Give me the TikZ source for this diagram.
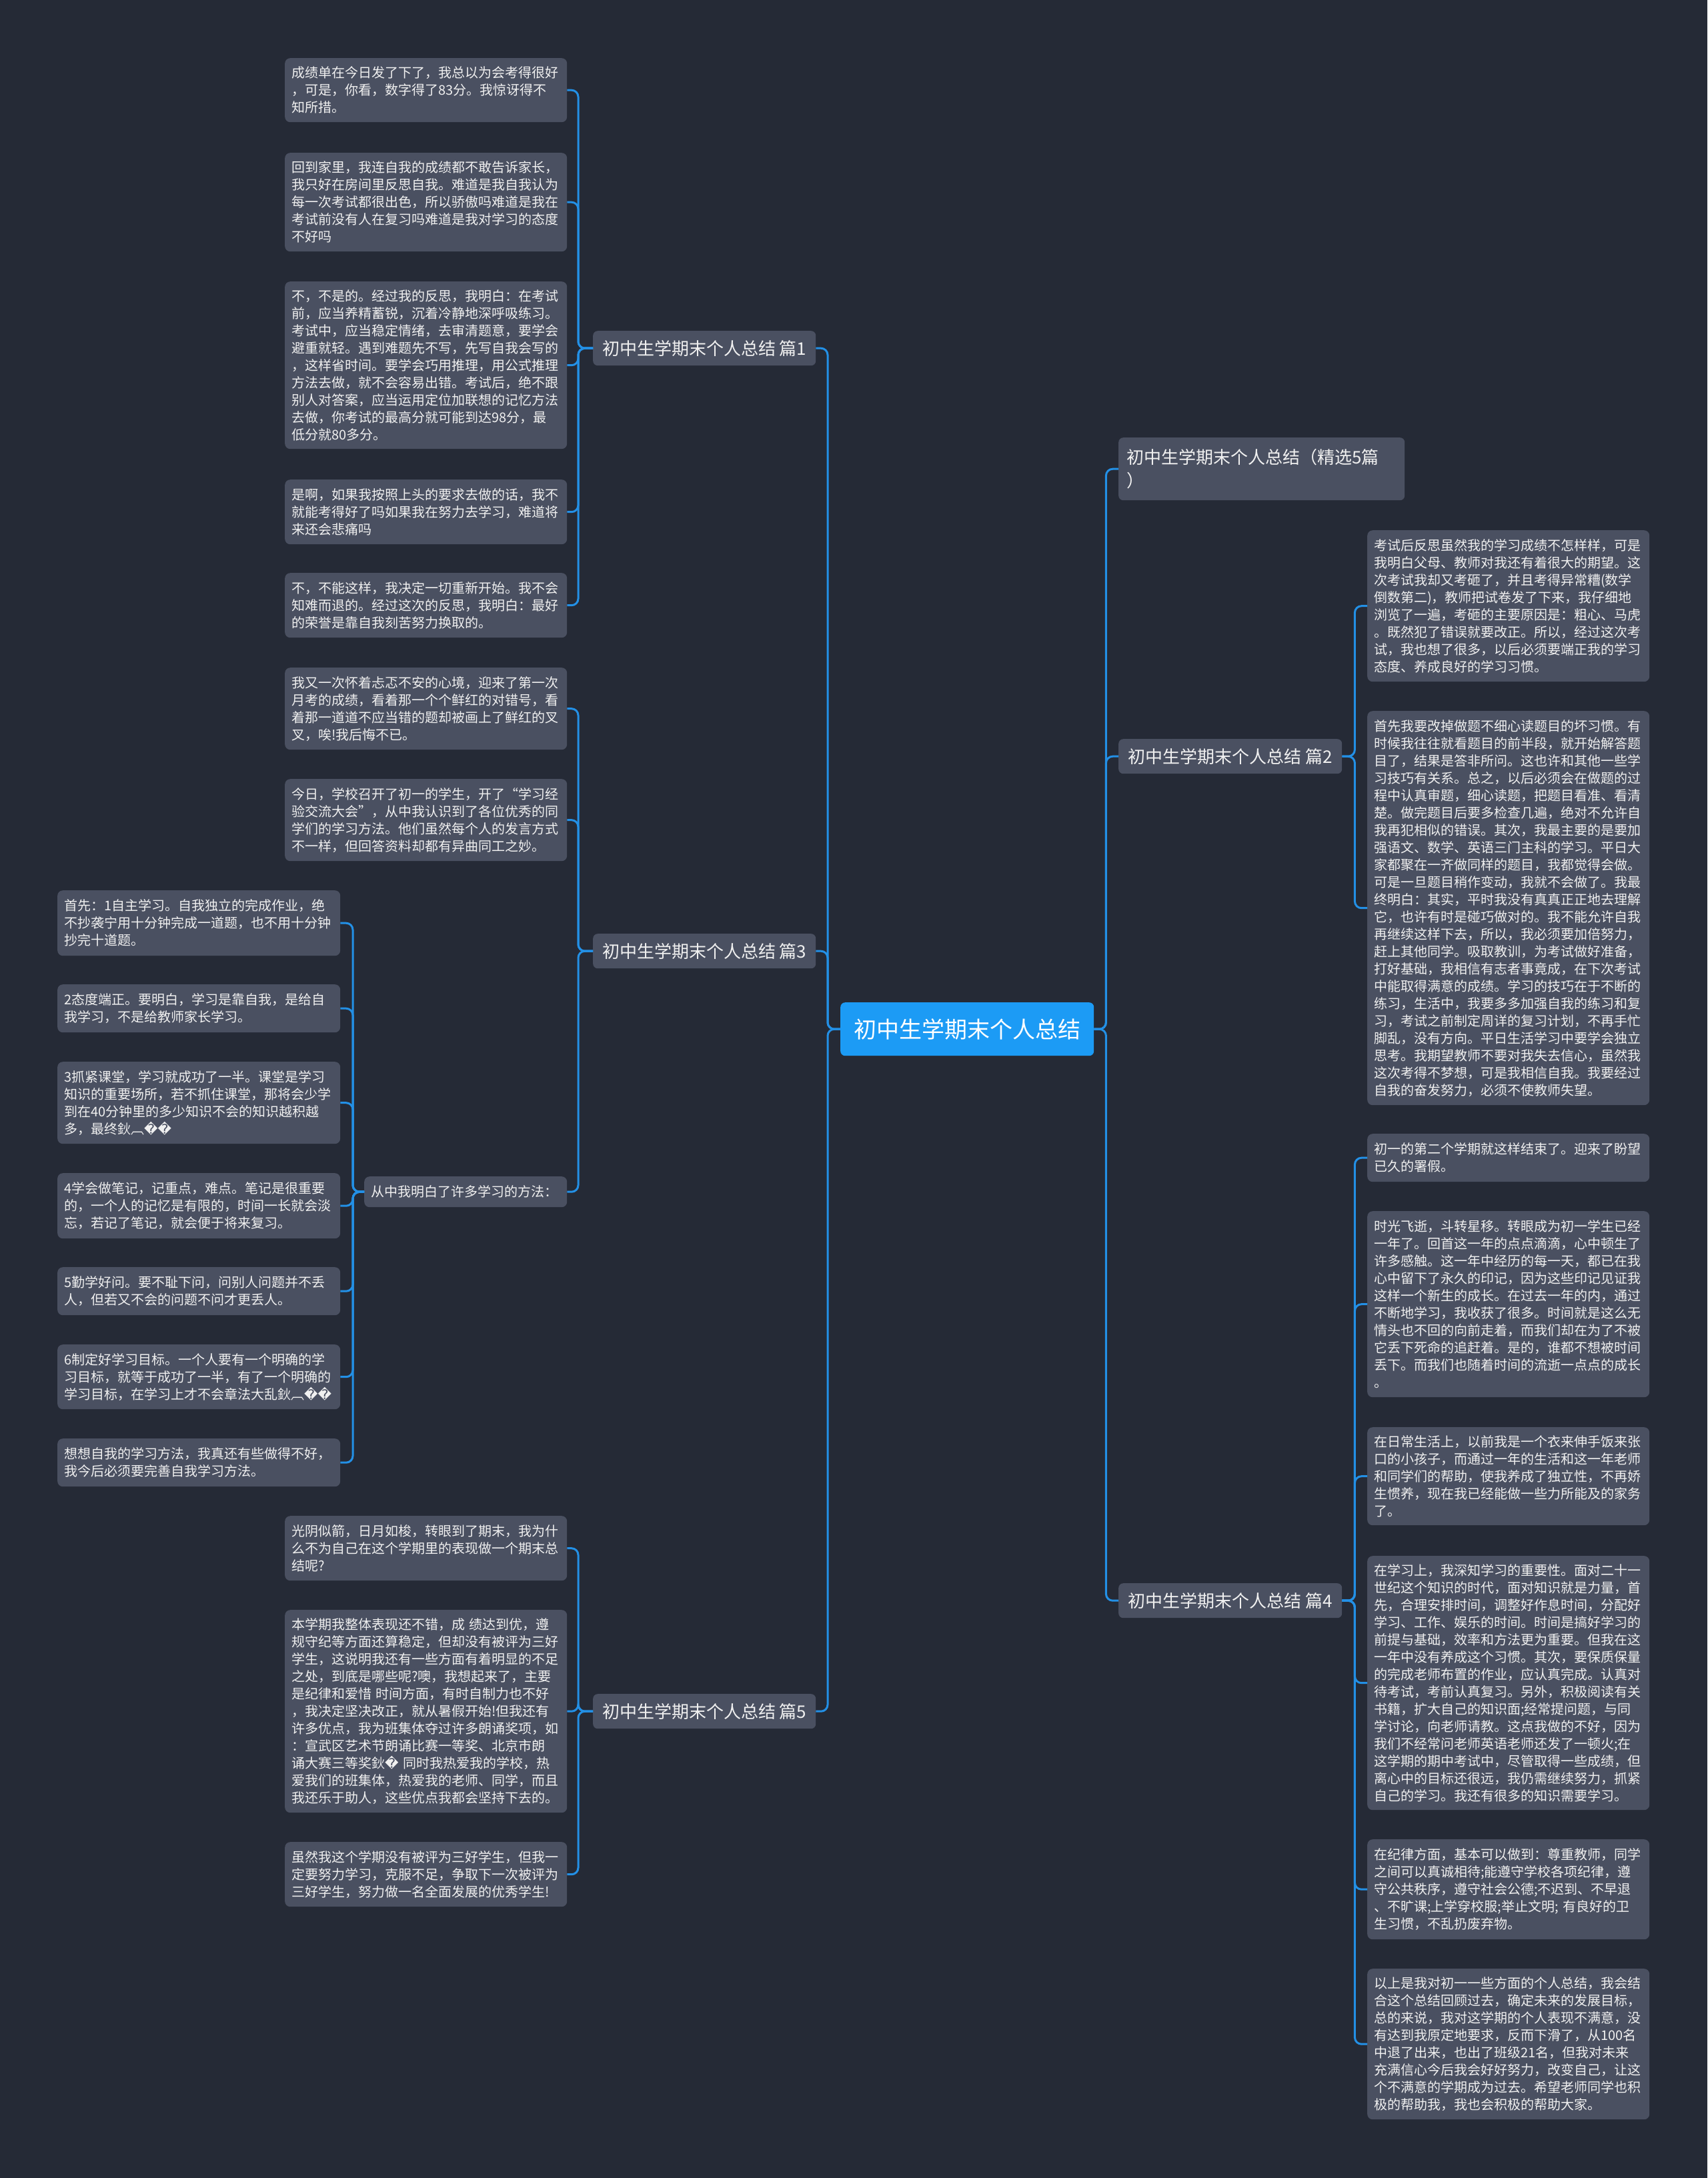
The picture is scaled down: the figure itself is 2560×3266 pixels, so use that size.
\documentclass[tikz,border=0pt]{standalone}
\usepackage{fontspec}
\setmainfont{Noto Sans CJK SC}
\newfontfamily\dejavu{DejaVu Sans}
\newcommand{\rp}{{\dejavu\symbol{"FFFD}}}
\definecolor{bgc}{HTML}{252A36}
\definecolor{boxc}{HTML}{4A5061}
\definecolor{linkc}{HTML}{2390E6}
\definecolor{rootc}{HTML}{1C9BF5}
\definecolor{txtc}{HTML}{F0F0F0}
\tikzset{
  leaf/.style={fill=boxc, rounded corners=8pt, text=txtc, anchor=north west,
    font=\fontsize{20}{26}\selectfont, align=left, text width=403pt,
    inner xsep=10pt, inner ysep=0pt},
  branch/.style={fill=boxc, rounded corners=7pt, text=txtc, anchor=north west,
    font=\fontsize{26}{35}\selectfont, inner xsep=12pt, inner ysep=0pt},
  rootbox/.style={fill=rootc, rounded corners=7pt, text=white, anchor=north west,
    font=\fontsize{34}{40}\selectfont, minimum width=380pt, minimum height=80pt},
  conn/.style={draw=linkc, line width=3pt, rounded corners=10pt}
}
\begin{document}
\begin{tikzpicture}[x=1pt,y=-1pt]
\fill[bgc] (0,0) rectangle (2560,3266);
\useasboundingbox (0,0) rectangle (2560,3266);

% root
\node[rootbox] (root) at (1260,1503) {初中生学期末个人总结};

% branches
\node[branch, minimum width=334pt, minimum height=52pt] (b1) at (889,496) {初中生学期末个人总结 篇1};
\node[branch, minimum width=334pt, minimum height=52pt] (b3) at (889,1400) {初中生学期末个人总结 篇3};
\node[branch, minimum width=334pt, minimum height=52pt] (b5) at (889,2540) {初中生学期末个人总结 篇5};
\node[branch, minimum height=94pt, text width=405pt, align=left] (r0) at (1677,656) {初中生学期末个人总结（精选5篇\\）};
\node[branch, minimum width=335pt, minimum height=52pt] (b2) at (1677,1108) {初中生学期末个人总结 篇2};
\node[branch, minimum width=335pt, minimum height=52pt] (b4) at (1677,2374) {初中生学期末个人总结 篇4};

% 篇1 leaves
\node[leaf, minimum height=96pt] (a1) at (427,87) {成绩单在今日发了下了，我总以为会考得很好\\，可是，你看，数字得了83分。我惊讶得不\\知所措。};
\node[leaf, minimum height=148pt] (a2) at (427,229) {回到家里，我连自我的成绩都不敢告诉家长，\\我只好在房间里反思自我。难道是我自我认为\\每一次考试都很出色，所以骄傲吗难道是我在\\考试前没有人在复习吗难道是我对学习的态度\\不好吗};
\node[leaf, minimum height=251pt] (a3) at (427,422) {不，不是的。经过我的反思，我明白：在考试\\前，应当养精蓄锐，沉着冷静地深呼吸练习。\\考试中，应当稳定情绪，去审清题意，要学会\\避重就轻。遇到难题先不写，先写自我会写的\\，这样省时间。要学会巧用推理，用公式推理\\方法去做，就不会容易出错。考试后，绝不跟\\别人对答案，应当运用定位加联想的记忆方法\\去做，你考试的最高分就可能到达98分，最\\低分就80多分。};
\node[leaf, minimum height=97pt] (a4) at (427,719) {是啊，如果我按照上头的要求去做的话，我不\\就能考得好了吗如果我在努力去学习，难道将\\来还会悲痛吗};
\node[leaf, minimum height=97pt] (a5) at (427,859) {不，不能这样，我决定一切重新开始。我不会\\知难而退的。经过这次的反思，我明白：最好\\的荣誉是靠自我刻苦努力换取的。};

% 篇3 leaves
\node[leaf, minimum height=123pt] (c1) at (427,1001) {我又一次怀着忐忑不安的心境，迎来了第一次\\月考的成绩，看着那一个个鲜红的对错号，看\\着那一道道不应当错的题却被画上了鲜红的叉\\叉，唉!我后悔不已。};
\node[leaf, minimum height=123pt] (c2) at (427,1168) {今日，学校召开了初一的学生，开了“学习经\\验交流大会”，从中我认识到了各位优秀的同\\学们的学习方法。他们虽然每个人的发言方式\\不一样，但回答资料却都有异曲同工之妙。};
\node[leaf, text width=284pt, minimum height=46pt] (c3) at (546,1764) {从中我明白了许多学习的方法：};

% 从中 leaves
\node[leaf, minimum height=98pt, text width=404pt] (d1) at (86,1335) {首先：1自主学习。自我独立的完成作业，绝\\不抄袭宁用十分钟完成一道题，也不用十分钟\\抄完十道题。};
\node[leaf, minimum height=72pt, text width=404pt] (d2) at (86,1476) {2态度端正。要明白，学习是靠自我，是给自\\我学习，不是给教师家长学习。};
\node[leaf, minimum height=123pt, text width=404pt] (d3) at (86,1592) {3抓紧课堂，学习就成功了一半。课堂是学习\\知识的重要场所，若不抓住课堂，那将会少学\\到在40分钟里的多少知识不会的知识越积越\\多，最终鈥︹\rp\rp};
\node[leaf, minimum height=98pt, text width=404pt] (d4) at (86,1759) {4学会做笔记，记重点，难点。笔记是很重要\\的，一个人的记忆是有限的，时间一长就会淡\\忘，若记了笔记，就会便于将来复习。};
\node[leaf, minimum height=72pt, text width=404pt] (d5) at (86,1900) {5勤学好问。要不耻下问，问别人问题并不丢\\人，但若又不会的问题不问才更丢人。};
\node[leaf, minimum height=97pt, text width=404pt] (d6) at (86,2016) {6制定好学习目标。一个人要有一个明确的学\\习目标，就等于成功了一半，有了一个明确的\\学习目标，在学习上才不会章法大乱鈥︹\rp\rp};
\node[leaf, minimum height=72pt, text width=404pt] (d7) at (86,2157) {想想自我的学习方法，我真还有些做得不好，\\我今后必须要完善自我学习方法。};

% 篇5 leaves
\node[leaf, minimum height=97pt] (e1) at (427,2273) {光阴似箭，日月如梭，转眼到了期末，我为什\\么不为自己在这个学期里的表现做一个期末总\\结呢?};
\node[leaf, minimum height=304pt] (e2) at (427,2414) {本学期我整体表现还不错，成 绩达到优，遵\\规守纪等方面还算稳定，但却没有被评为三好\\学生，这说明我还有一些方面有着明显的不足\\之处，到底是哪些呢?噢，我想起来了，主要\\是纪律和爱惜 时间方面，有时自制力也不好\\，我决定坚决改正，就从暑假开始!但我还有\\许多优点，我为班集体夺过许多朗诵奖项，如\\：宣武区艺术节朗诵比赛一等奖、北京市朗\\诵大赛三等奖鈥\rp{} 同时我热爱我的学校，热\\爱我们的班集体，热爱我的老师、同学，而且\\我还乐于助人，这些优点我都会坚持下去的。};
\node[leaf, minimum height=97pt] (e3) at (427,2762) {虽然我这个学期没有被评为三好学生，但我一\\定要努力学习，克服不足，争取下一次被评为\\三好学生，努力做一名全面发展的优秀学生!};

% 篇2 leaves
\node[leaf, minimum height=227pt] (f1) at (2050,795) {考试后反思虽然我的学习成绩不怎样样，可是\\我明白父母、教师对我还有着很大的期望。这\\次考试我却又考砸了，并且考得异常糟(数学\\倒数第二)，教师把试卷发了下来，我仔细地\\浏览了一遍，考砸的主要原因是：粗心、马虎\\。既然犯了错误就要改正。所以，经过这次考\\试，我也想了很多，以后必须要端正我的学习\\态度、养成良好的学习习惯。};
\node[leaf, minimum height=591pt] (f2) at (2050,1066) {首先我要改掉做题不细心读题目的坏习惯。有\\时候我往往就看题目的前半段，就开始解答题\\目了，结果是答非所问。这也许和其他一些学\\习技巧有关系。总之，以后必须会在做题的过\\程中认真审题，细心读题，把题目看准、看清\\楚。做完题目后要多检查几遍，绝对不允许自\\我再犯相似的错误。其次，我最主要的是要加\\强语文、数学、英语三门主科的学习。平日大\\家都聚在一齐做同样的题目，我都觉得会做。\\可是一旦题目稍作变动，我就不会做了。我最\\终明白：其实，平时我没有真真正正地去理解\\它，也许有时是碰巧做对的。我不能允许自我\\再继续这样下去，所以，我必须要加倍努力，\\赶上其他同学。吸取教训，为考试做好准备，\\打好基础，我相信有志者事竟成，在下次考试\\中能取得满意的成绩。学习的技巧在于不断的\\练习，生活中，我要多多加强自我的练习和复\\习，考试之前制定周详的复习计划，不再手忙\\脚乱，没有方向。平日生活学习中要学会独立\\思考。我期望教师不要对我失去信心，虽然我\\这次考得不梦想，可是我相信自我。我要经过\\自我的奋发努力，必须不使教师失望。};

% 篇4 leaves
\node[leaf, minimum height=72pt] (g1) at (2050,1700) {初一的第二个学期就这样结束了。迎来了盼望\\已久的署假。};
\node[leaf, minimum height=279pt] (g2) at (2050,1816) {时光飞逝，斗转星移。转眼成为初一学生已经\\一年了。回首这一年的点点滴滴，心中顿生了\\许多感触。这一年中经历的每一天，都已在我\\心中留下了永久的印记，因为这些印记见证我\\这样一个新生的成长。在过去一年的内，通过\\不断地学习，我收获了很多。时间就是这么无\\情头也不回的向前走着，而我们却在为了不被\\它丢下死命的追赶着。是的，谁都不想被时间\\丢下。而我们也随着时间的流逝一点点的成长\\。};
\node[leaf, minimum height=147pt] (g3) at (2050,2140) {在日常生活上，以前我是一个衣来伸手饭来张\\口的小孩子，而通过一年的生活和这一年老师\\和同学们的帮助，使我养成了独立性，不再娇\\生惯养，现在我已经能做一些力所能及的家务\\了。};
\node[leaf, minimum height=381pt] (g4) at (2050,2333) {在学习上，我深知学习的重要性。面对二十一\\世纪这个知识的时代，面对知识就是力量，首\\先，合理安排时间，调整好作息时间，分配好\\学习、工作、娱乐的时间。时间是搞好学习的\\前提与基础，效率和方法更为重要。但我在这\\一年中没有养成这个习惯。其次，要保质保量\\的完成老师布置的作业，应认真完成。认真对\\待考试，考前认真复习。另外，积极阅读有关\\书籍，扩大自己的知识面;经常提问题，与同\\学讨论，向老师请教。这点我做的不好，因为\\我们不经常问老师英语老师还发了一顿火;在\\这学期的期中考试中，尽管取得一些成绩，但\\离心中的目标还很远，我仍需继续努力，抓紧\\自己的学习。我还有很多的知识需要学习。};
\node[leaf, minimum height=150pt] (g5) at (2050,2758) {在纪律方面，基本可以做到：尊重教师，同学\\之间可以真诚相待;能遵守学校各项纪律，遵\\守公共秩序，遵守社会公德;不迟到、不早退\\、不旷课;上学穿校服;举止文明; 有良好的卫\\生习惯，不乱扔废弃物。};
\node[leaf, minimum height=226pt] (g6) at (2050,2952) {以上是我对初一一些方面的个人总结，我会结\\合这个总结回顾过去，确定未来的发展目标，\\总的来说，我对这学期的个人表现不满意，没\\有达到我原定地要求，反而下滑了，从100名\\中退了出来，也出了班级21名，但我对未来\\充满信心今后我会好好努力，改变自己，让这\\个不满意的学期成为过去。希望老师同学也积\\极的帮助我，我也会积极的帮助大家。};

% connectors
\foreach \c in {b1,b3,b5} \draw[conn] (root.west) -- ++(-19,0) |- (\c.east);
\foreach \c in {r0,b2,b4} \draw[conn] (root.east) -- ++(18,0) |- (\c.west);
\foreach \c in {a1,a2,a3,a4,a5} \draw[conn] (b1.west) -- ++(-22,0) |- (\c.east);
\foreach \c in {c1,c2,c3} \draw[conn] (b3.west) -- ++(-22,0) |- (\c.east);
\foreach \c in {d1,d2,d3,d4,d5,d6,d7} \draw[conn] (c3.west) -- ++(-17,0) |- (\c.east);
\foreach \c in {e1,e2,e3} \draw[conn] (b5.west) -- ++(-22,0) |- (\c.east);
\foreach \c in {f1,f2} \draw[conn] (b2.east) -- ++(19,0) |- (\c.west);
\foreach \c in {g1,g2,g3,g4,g5,g6} \draw[conn] (b4.east) -- ++(19,0) |- (\c.west);
\end{tikzpicture}
\end{document}
